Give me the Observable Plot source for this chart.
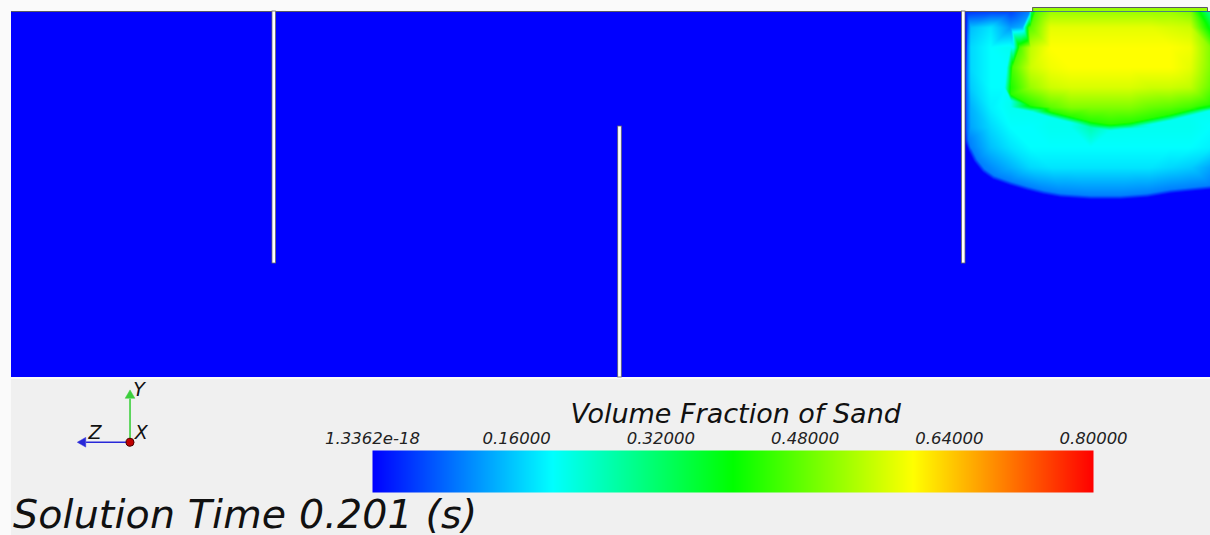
<!DOCTYPE html>
<html>
<head>
<meta charset="utf-8">
<script src="https://cdn.jsdelivr.net/npm/d3@7"></script>
<script src="https://cdn.jsdelivr.net/npm/@observablehq/plot@0.6"></script>
<style>
html, body { margin: 0; padding: 0; background: #fafafa; overflow: hidden; }
#page { position: relative; width: 1210px; height: 535px; font-family: "DejaVu Sans", sans-serif; }
#panel { position: absolute; left: 11px; top: 379px; width: 1199px; height: 156px; background: #f0f0f0; }
#tank { position: absolute; left: 0; top: 0; }
#triad { position: absolute; left: 55.5px; top: 368px; }
#bar { position: absolute; left: 312px; top: 395px; }
#time { position: absolute; left: 13px; top: 496.5px; font-size: 39.5px; letter-spacing: 0.15px; font-style: italic; line-height: 0.9; color: #111; white-space: nowrap; }
</style>
</head>
<body>
<div id="page">
  <div id="panel"></div>
  <div id="tank"></div>
  <div id="triad"></div>
  <div id="bar"></div>
  <div id="time"></div>
</div>
<script>
// ---------- data ----------
// tank (x 0..120, y 0..36.6)
const tank = [{x1: 0, x2: 120, y1: 0, y2: 36.6, v: 0}];
const inlet = [{x1: 102.2, x2: 119.7, y1: 36.6, y2: 37.0, v: 0.52}];
const topEdgeX = [0, 102.2, 102.2, 119.7, 119.7, 120];
const topEdgeY = [36.6, 36.6, 37.0, 37.0, 36.6, 36.6];
const baffleX = [26.3, 60.9, 95.3];
const baffleBottom = [11.4, 0, 11.4];
const baffleTop = [36.6, 25.1, 36.6];
const baffleThickness = 0.36;

// sand volume fraction sampled in the right chamber
const colX = [96, 98, 100, 102, 104, 106, 108, 110, 112, 114, 116, 118, 120];
const rowY = [36.6, 35, 33, 31, 29, 27, 25, 23, 21];
const fraction = [
  [0.04, 0.05, 0.05, 0.30, 0.52, 0.52, 0.52, 0.52, 0.52, 0.52, 0.52, 0.50, 0.28],
  [0.15, 0.18, 0.12, 0.47, 0.58, 0.58, 0.58, 0.58, 0.58, 0.58, 0.57, 0.56, 0.38],
  [0.17, 0.20, 0.21, 0.55, 0.60, 0.60, 0.60, 0.60, 0.60, 0.60, 0.60, 0.59, 0.50],
  [0.17, 0.20, 0.38, 0.56, 0.59, 0.60, 0.60, 0.60, 0.60, 0.60, 0.60, 0.58, 0.50],
  [0.16, 0.20, 0.42, 0.52, 0.56, 0.57, 0.57, 0.57, 0.57, 0.56, 0.56, 0.55, 0.48],
  [0.14, 0.19, 0.21, 0.38, 0.47, 0.50, 0.50, 0.50, 0.50, 0.48, 0.47, 0.45, 0.36],
  [0.13, 0.17, 0.20, 0.20, 0.21, 0.21, 0.26, 0.31, 0.26, 0.21, 0.21, 0.21, 0.20],
  [0.10, 0.15, 0.18, 0.20, 0.20, 0.20, 0.20, 0.20, 0.20, 0.20, 0.20, 0.20, 0.19],
  [0.00, 0.11, 0.14, 0.17, 0.18, 0.18, 0.18, 0.18, 0.18, 0.18, 0.17, 0.16, 0.13]
];
// lower edge of the dense (yellow) core
const coreEdgeX = [100, 102, 104, 106, 108, 110, 112, 114, 116, 118, 120];
const coreEdgeY = [28.0, 26.9, 26.3, 25.8, 25.3, 25.0, 25.2, 25.6, 26.0, 26.5, 27.0];
const coreInside = 0.43, coreOutside = 0.21;
// left edge of the core
const coreLeftY = [36.6, 35, 33, 31, 29];
const coreLeftX = [102.2, 101.5, 100.6, 99.9, 99.7];
const coreLeftOutside = [0.10, 0.14, 0.20, 0.20, 0.20];
const coreLeftInside = 0.46;
// thin low-fraction layer against the right face of the third baffle
const wallX = 95.6;
const wallY = [36.6, 33, 29, 25];
const wallValue = [0.03, 0.09, 0.09, 0.08];
// outer edge of the plume, from the baffle round to the right wall
const plumeEdgeX = [95.58, 95.98, 96.48, 97.28, 98.28, 99.98, 101.69, 103.29, 104.99, 107.99, 110.99, 113.69, 115.99, 117.99, 120];
const plumeEdgeY = [23.7, 22.7, 21.7, 20.7, 20.0, 19.4, 18.9, 18.5, 18.2, 18.0, 18.0, 18.2, 18.6, 18.8, 19.0];
const plumeEdgeValue = 0.1;
const coreHalfWidth = 0.3;
const plumeHalfWidth = 0.2;

// colour bar
const colorStops = [0, 0.2, 0.4, 0.6, 0.8];
const colorRange = ["#0000ff", "#00ffff", "#00ff00", "#ffff00", "#ff0000"];
const tickValues = [0, 0.16, 0.32, 0.48, 0.64, 0.8];
const tickLabels = ["1.3362e-18", "0.16000", "0.32000", "0.48000", "0.64000", "0.80000"];
const legendTitle = "Volume Fraction of Sand";
const timeLabel = "Solution Time 0.201 (s)";

// axis triad
const triadNames = ["Z", "Y"];
const triadTipX = [-0.83, 0];
const triadTipY = [0, 0.82];
const triadHeadX = [-0.89, 0];
const triadHeadY = [0, 0.88];
const triadHeadRotate = [-90, 0];
const triadColors = ["#2828d8", "#3ccf3c"];
const triadLabelText = ["Y", "Z", "X"];
const triadLabelX = [0.17, -0.66, 0.21];
const triadLabelY = [0.99, 0.18, 0.18];

// ---------- build tables ----------
const fieldPoints = [];
rowY.forEach((y, i) => colX.forEach((x, j) => fieldPoints.push({x, y, v: fraction[i][j]})));
coreEdgeX.forEach((x, i) => {
  fieldPoints.push({x, y: coreEdgeY[i] + coreHalfWidth, v: coreInside});
  fieldPoints.push({x, y: coreEdgeY[i] - coreHalfWidth, v: coreOutside});
});
coreLeftY.forEach((y, i) => {
  fieldPoints.push({x: coreLeftX[i] + coreHalfWidth, y, v: coreLeftInside});
  fieldPoints.push({x: coreLeftX[i] - coreHalfWidth, y, v: coreLeftOutside[i]});
});
wallY.forEach((y, i) => fieldPoints.push({x: wallX, y, v: wallValue[i]}));
plumeEdgeX.forEach((x, i) => {
  const a = Math.max(0, i - 1), b = Math.min(plumeEdgeX.length - 1, i + 1);
  const tx = plumeEdgeX[b] - plumeEdgeX[a], ty = plumeEdgeY[b] - plumeEdgeY[a];
  const len = Math.hypot(tx, ty);
  const nx = -ty / len, ny = tx / len; // inward normal
  fieldPoints.push({x: x + nx * plumeHalfWidth, y: plumeEdgeY[i] + ny * plumeHalfWidth, v: plumeEdgeValue});
  fieldPoints.push({x: x - nx * plumeHalfWidth, y: plumeEdgeY[i] - ny * plumeHalfWidth, v: 0});
});
const topEdge = topEdgeX.map((x, i) => ({x, y: topEdgeY[i]}));
const baffles = baffleX.map((x, i) => ({x, bottom: baffleBottom[i], top: baffleTop[i]}));
const triadAxes = triadNames.map((n, i) => ({n, x: triadTipX[i], y: triadTipY[i], hx: triadHeadX[i], hy: triadHeadY[i], rot: triadHeadRotate[i], c: triadColors[i]}));
const triadLabels = triadLabelText.map((t, i) => ({t, x: triadLabelX[i], y: triadLabelY[i]}));
const ticks = tickValues.map((v, i) => ({v, label: tickLabels[i]}));

const colorScale = {type: "linear", domain: colorStops, range: colorRange, interpolate: "rgb"};
const font = "'DejaVu Sans', sans-serif";

// ---------- main field ----------
const tankPlot = Plot.plot({
  width: 1210, height: 379,
  marginLeft: 11, marginRight: 0, marginTop: 7, marginBottom: 2,
  x: {domain: [0, 120], axis: null},
  y: {domain: [0, 37], axis: null},
  color: colorScale,
  style: {background: "transparent"},
  marks: [
    Plot.rect(tank, {x1: "x1", x2: "x2", y1: "y1", y2: "y2", fill: "v"}),
    Plot.raster(fieldPoints, {x: "x", y: "y", fill: "v", x1: 95.5, x2: 120, y1: 15, y2: 36.6, interpolate: "barycentric"}),
    Plot.rect(inlet, {x1: "x1", x2: "x2", y1: "y1", y2: "y2", fill: "v"}),
    Plot.line(topEdge, {x: "x", y: "y", stroke: "#5a5a64", strokeWidth: 1}),
    Plot.rect(baffles, {x1: d => d.x - baffleThickness / 2, x2: d => d.x + baffleThickness / 2, y1: "bottom", y2: "top", fill: "white", stroke: "#666", strokeWidth: 0.8})
  ]
});
document.getElementById("tank").append(tankPlot);

// ---------- colour bar ----------
const barPlot = Plot.plot({
  width: 840, height: 99,
  marginLeft: 60, marginRight: 59, marginTop: 55, marginBottom: 2,
  x: {domain: [0, 0.8], axis: null},
  y: {domain: [0, 1], axis: null},
  color: colorScale,
  style: {background: "transparent", fontFamily: font, overflow: "visible"},
  marks: [
    Plot.raster({x1: 0, x2: 0.8, y1: 0, y2: 1, fill: (x, y) => x}),
    Plot.text(ticks, {x: "v", y: 1, text: "label", dy: -7, lineAnchor: "bottom", fontSize: 16.5, fontStyle: "italic", fill: "#222"}),
    Plot.text([legendTitle], {x: 0.403, y: 1, text: d => d, dy: -28, lineAnchor: "bottom", fontSize: 27, fontStyle: "italic", fill: "#111"})
  ]
});
document.getElementById("bar").append(barPlot);

// ---------- axis triad ----------
const triadPlot = Plot.plot({
  width: 110, height: 105,
  marginLeft: 10, marginRight: 10, marginTop: 10, marginBottom: 10,
  x: {domain: [-1.2, 0.5], axis: null},
  y: {domain: [-0.4, 1.2], axis: null},
  style: {background: "transparent", fontFamily: font, overflow: "visible"},
  marks: [
    Plot.link(triadAxes, {x1: 0, y1: 0, x2: "x", y2: "y", stroke: d => d.c, strokeWidth: 1.6}),
    Plot.dot(triadAxes, {x: "hx", y: "hy", symbol: "triangle", rotate: "rot", r: 3.6, fill: d => d.c, stroke: d => d.c, strokeWidth: 0.5}),
    Plot.dot([0], {x: 0, y: 0, r: 4, fill: "#c00000", stroke: "#4a0000", strokeWidth: 1}),
    Plot.text(triadLabels, {x: "x", y: "y", text: "t", fontSize: 19, fontStyle: "italic", fill: "#111"})
  ]
});
document.getElementById("triad").append(triadPlot);

document.getElementById("time").textContent = timeLabel;
</script>
</body>
</html>
